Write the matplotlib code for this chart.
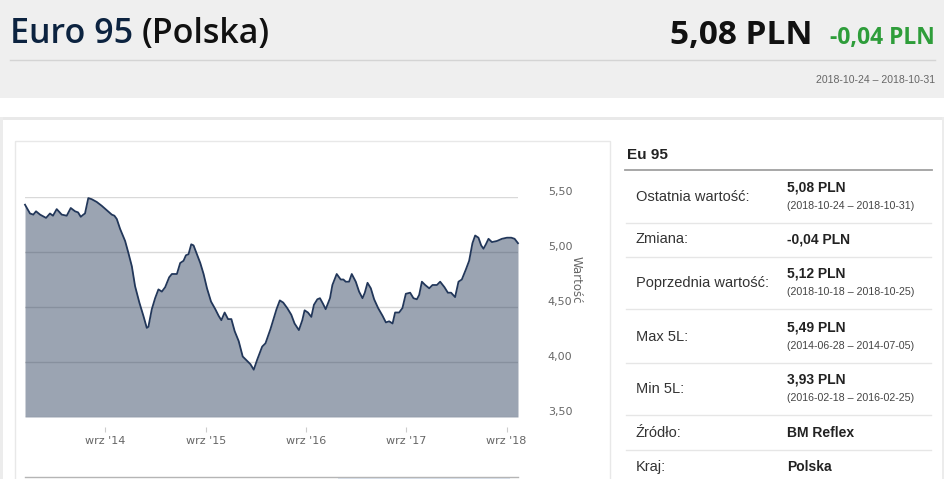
import matplotlib
matplotlib.use('Agg')
import matplotlib.pyplot as plt
from matplotlib.patches import Rectangle

W, H = 945, 479

# ---- data (decimal years, PLN per litre) ----
dates = [2013.865, 2013.915, 2013.948, 2013.975, 2014.015, 2014.075, 2014.114, 2014.144,
         2014.181, 2014.231, 2014.281, 2014.321, 2014.364, 2014.394, 2014.421, 2014.447,
         2014.463, 2014.496, 2014.530, 2014.580, 2014.630, 2014.680, 2014.730, 2014.756,
         2014.780, 2014.813, 2014.863, 2014.896, 2014.930, 2014.962, 2015.005, 2015.045,
         2015.079, 2015.095, 2015.129, 2015.162, 2015.195, 2015.229, 2015.262, 2015.302,
         2015.329, 2015.379, 2015.412, 2015.445, 2015.469, 2015.495, 2015.522, 2015.545,
         2015.579, 2015.612, 2015.645, 2015.679, 2015.719, 2015.762, 2015.795, 2015.822,
         2015.855, 2015.889, 2015.922, 2015.955, 2015.995, 2016.035, 2016.079, 2016.112,
         2016.145, 2016.179, 2016.229, 2016.262, 2016.312, 2016.345, 2016.372, 2016.405,
         2016.439, 2016.479, 2016.519, 2016.552, 2016.595, 2016.629, 2016.652, 2016.685,
         2016.719, 2016.745, 2016.779, 2016.805, 2016.835, 2016.862, 2016.905, 2016.929,
         2016.972, 2017.012, 2017.039, 2017.062, 2017.095, 2017.122, 2017.162, 2017.195,
         2017.229, 2017.252, 2017.279, 2017.312, 2017.345, 2017.385, 2017.429, 2017.462,
         2017.495, 2017.529, 2017.554, 2017.594, 2017.627, 2017.661, 2017.704, 2017.737,
         2017.771, 2017.794, 2017.821, 2017.854, 2017.894, 2017.927, 2017.971, 2018.003,
         2018.046, 2018.080, 2018.112, 2018.152, 2018.186, 2018.219, 2018.259, 2018.292,
         2018.325, 2018.352, 2018.385, 2018.412, 2018.435, 2018.459, 2018.485, 2018.519,
         2018.569, 2018.619, 2018.669, 2018.712, 2018.745, 2018.779]
prices = [5.43, 5.35, 5.34, 5.37, 5.34, 5.31, 5.35, 5.33,
          5.39, 5.34, 5.33, 5.40, 5.37, 5.36, 5.32, 5.34,
          5.35, 5.49, 5.48, 5.455, 5.42, 5.38, 5.34, 5.33,
          5.30, 5.21, 5.10, 4.99, 4.87, 4.69, 4.54, 4.42,
          4.31, 4.32, 4.48, 4.58, 4.66, 4.64, 4.68, 4.77,
          4.80, 4.80, 4.90, 4.92, 4.97, 4.98, 5.07, 5.06,
          4.98, 4.90, 4.80, 4.67, 4.55, 4.48, 4.42, 4.38,
          4.45, 4.39, 4.39, 4.28, 4.19, 4.05, 4.01, 3.98,
          3.93, 4.02, 4.14, 4.17, 4.30, 4.40, 4.48, 4.56,
          4.54, 4.49, 4.43, 4.35, 4.29, 4.38, 4.47, 4.45,
          4.41, 4.52, 4.57, 4.58, 4.53, 4.48, 4.58, 4.70,
          4.80, 4.75, 4.75, 4.73, 4.73, 4.80, 4.73, 4.64,
          4.58, 4.63, 4.72, 4.67, 4.57, 4.49, 4.42, 4.36,
          4.37, 4.35, 4.45, 4.45, 4.49, 4.62, 4.63, 4.58,
          4.57, 4.61, 4.73, 4.70, 4.67, 4.70, 4.70, 4.73,
          4.68, 4.63, 4.63, 4.59, 4.73, 4.75, 4.84, 4.92,
          5.08, 5.15, 5.13, 5.06, 5.03, 5.07, 5.12, 5.09,
          5.10, 5.12, 5.13, 5.13, 5.12, 5.08]

tick_years = [2014, 2015, 2016, 2017, 2018]
tick_labels = ["wrz '14", "wrz '15", "wrz '16", "wrz '17", "wrz '18"]
y_ticks = [3.5, 4.0, 4.5, 5.0, 5.5]
y_tick_labels = ["3,50", "4,00", "4,50", "5,00", "5,50"]
y_title = "Wartość"

title_main = "Euro 95"
title_country = "(Polska)"
last_price = "5,08 PLN"
change = "-0,04 PLN"
period = "2018-10-24 – 2018-10-31"

table_title = "Eu 95"
row_labels = ["Ostatnia wartość:", "Zmiana:", "Poprzednia wartość:", "Max 5L:",
              "Min 5L:", "Źródło:", "Kraj:"]
row_values = ["5,08 PLN", "-0,04 PLN", "5,12 PLN", "5,49 PLN", "3,93 PLN",
              "BM Reflex", "Polska"]
row_periods = ["(2018-10-24 – 2018-10-31)", "", "(2018-10-18 – 2018-10-25)",
               "(2014-06-28 – 2014-07-05)", "(2016-02-18 – 2016-02-25)", "", ""]

# ---- layout / styles ----
NAVY = '#2b3f5c'
SANS = ['Liberation Sans', 'DejaVu Sans']
HEAD = ['Open Sans', 'DejaVu Sans']
fig = plt.figure(figsize=(W / 100, H / 100), dpi=100)
fig.patch.set_facecolor('white')

bg = fig.add_axes([0, 0, 1, 1], zorder=0)
bg.set_xlim(0, W)
bg.set_ylim(H, 0)
bg.axis('off')

# header band
bg.add_patch(Rectangle((0, 0), W, 98, color='#efefef', lw=0))
bg.plot([10, 935], [60, 60], color='#d4d4d4', lw=1)
t1 = bg.text(10, 43, title_main, fontsize=24.5, fontweight='semibold', color='#0c2340',
             family=HEAD, va='baseline', ha='left')
bg.annotate(title_country, xy=(1, 0), xycoords=t1, xytext=(6, 0),
            textcoords='offset points', fontsize=24.5, fontweight='semibold',
            color='#111111', family=HEAD, va='bottom', ha='left')
bg.text(812, 44, last_price, fontsize=24, fontweight='bold', color='#111111',
        family=HEAD, va='baseline', ha='right')
bg.text(935, 44, change, fontsize=16.5, fontweight='bold', color='#2e9d3a',
        family=HEAD, va='baseline', ha='right')
bg.text(935, 80, period, fontsize=7.6, color='#666666', family=SANS,
        va='center', ha='right')

# panel borders
bg.add_patch(Rectangle((0, 117), W, 3, color='#e9e9e9', lw=0))
bg.add_patch(Rectangle((0, 117), 3, H - 117, color='#ececec', lw=0))
bg.add_patch(Rectangle((942, 117), 3, H - 117, color='#ececec', lw=0))
bg.add_patch(Rectangle((15, 141), 595, H, fill=False, edgecolor='#e8e8e8', lw=1))

# navigator strip at bottom
bg.plot([25, 518], [477, 477], color='#b5b5b5', lw=1)
bg.add_patch(Rectangle((338, 477.5), 172, 3, color='#dde6f2', lw=0))

# table
bg.text(627, 155, table_title, fontsize=11, fontweight='bold', color='#222222',
        family=SANS, va='center', ha='left')
bg.plot([625, 932], [170, 170], color='#a0a0a0', lw=1.3)
row_centres = [197, 239, 283, 337, 389, 433, 467]
row_seps = [223, 257, 309, 363, 415, 450]
for ys in row_seps:
    bg.plot([626, 931], [ys, ys], color='#e6e6e6', lw=1)
for yc, lab, val, per in zip(row_centres, row_labels, row_values, row_periods):
    bg.text(636, yc, lab, fontsize=10.5, color='#333333', family=SANS,
            va='center', ha='left')
    if per:
        bg.text(787, yc - 10, val, fontsize=10, fontweight='bold', color='#222222',
                family=SANS, va='center', ha='left')
        bg.text(787, yc + 9, per, fontsize=7.7, color='#444444', family=SANS,
                va='center', ha='left')
    else:
        bg.text(787, yc, val, fontsize=10, fontweight='bold', color='#222222',
                family=SANS, va='center', ha='left')

# ---- main chart ----
x0, x1, ytop, ybot = 25, 518, 197, 417
ax = fig.add_axes([x0 / W, 1 - ybot / H, (x1 - x0) / W, (ybot - ytop) / H], zorder=2)
ax.patch.set_alpha(0)
ax.fill_between(dates, prices, y_ticks[0], color=NAVY, alpha=0.47, lw=0, zorder=2)
ax.plot(dates, prices, color='#22375a', lw=1.3, zorder=3, clip_on=False,
        solid_joinstyle='round')
ax.set_xlim(dates[0], dates[-1])
ax.set_ylim(y_ticks[0], y_ticks[-1])

ax.set_yticks(y_ticks)
ax.set_yticklabels(y_tick_labels)
ax.yaxis.tick_right()
ax.tick_params(axis='y', length=0, pad=21.5, labelsize=8, labelcolor='#666666')
for lbl in ax.get_yticklabels():
    lbl.set_family(['DejaVu Sans'])
    lbl.set_va('bottom')
ax.grid(axis='y', color='#d9d9d9', lw=1, zorder=1)
ax.set_axisbelow(True)

ax.yaxis.set_label_position('right')
ax.set_ylabel(y_title, rotation=270, fontsize=8.5, color='#666666',
              family=['DejaVu Sans'])
ax.yaxis.set_label_coords((583 - x0) / (x1 - x0), (ybot - 280) / (ybot - ytop))

ax.set_xticks([y + 243 / 365 for y in tick_years])
ax.set_xticklabels(tick_labels)
for s in ['top', 'left', 'right']:
    ax.spines[s].set_visible(False)
ax.spines['bottom'].set_position(('outward', 7.2))
ax.spines['bottom'].set_color('none')
ax.tick_params(axis='x', length=3.6, width=0.8, color='#cccccc', pad=3,
               labelsize=8, labelcolor='#666666')
for lbl in ax.get_xticklabels():
    lbl.set_family(['DejaVu Sans'])

fig.savefig('out.png', dpi=100, facecolor='white')
